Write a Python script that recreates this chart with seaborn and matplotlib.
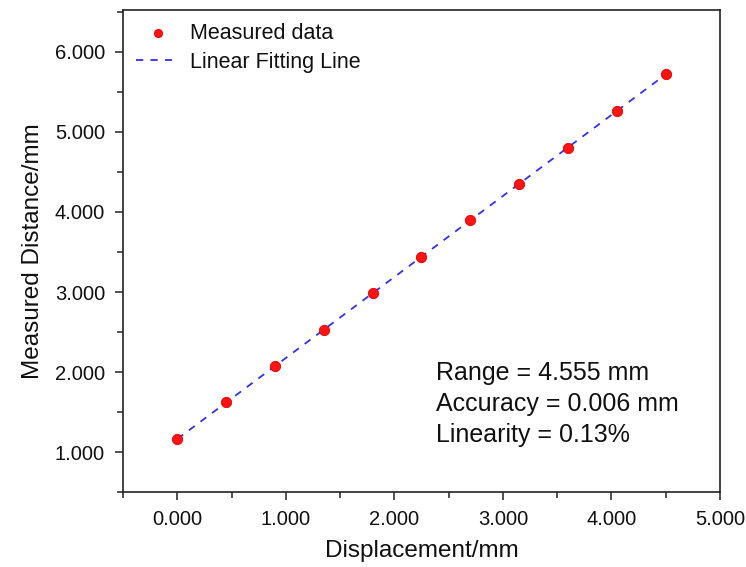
import numpy as np
import pandas as pd
import seaborn as sns
from matplotlib import pyplot as plt
from matplotlib.ticker import MultipleLocator, FormatStrFormatter

displacement = [0.0, 0.45, 0.9, 1.35, 1.8, 2.25, 2.7, 3.15, 3.6, 4.05, 4.5]
measured = [1.165, 1.620, 2.075, 2.530, 2.985, 3.440, 3.895, 4.350, 4.805, 5.260, 5.720]
notes = ["Range = 4.555 mm", "Accuracy = 0.006 mm", "Linearity = 0.13%"]

df = pd.DataFrame({"x": displacement, "y": measured})
k, b = np.polyfit(df["x"], df["y"], 1)
df["fit"] = k * df["x"] + b

sns.set_style("ticks")
plt.rcParams['font.family'] = ['Liberation Sans', 'DejaVu Sans']
plt.rcParams['text.color'] = '#111111'
plt.rcParams['axes.labelcolor'] = '#111111'
plt.rcParams['xtick.labelcolor'] = '#111111'
plt.rcParams['ytick.labelcolor'] = '#111111'

fig = plt.figure(figsize=(7.46, 5.67), dpi=100)
ax = fig.add_axes([0.165, 0.132, 0.8, 0.85])

sns.lineplot(data=df, x="x", y="fit", ax=ax, color="#3030ff", lw=1.3,
             linestyle="--", label="Linear Fitting Line", zorder=2)
sns.scatterplot(data=df, x="x", y="y", ax=ax, color="#ff1414", edgecolor="#e00000",
                s=55, linewidth=0.6, label="Measured data", zorder=3)
ax.lines[0].set_dashes((4, 4))

ax.set_xlim(-0.5, 5.0)
ax.set_ylim(0.5, 6.52)
ax.xaxis.set_major_locator(MultipleLocator(1))
ax.xaxis.set_minor_locator(MultipleLocator(0.5))
ax.yaxis.set_major_locator(MultipleLocator(1))
ax.yaxis.set_minor_locator(MultipleLocator(0.5))
ax.xaxis.set_major_formatter(FormatStrFormatter("%.3f"))
ax.yaxis.set_major_formatter(FormatStrFormatter("%.3f"))
ax.tick_params(which="major", length=6, width=1.1, labelsize=14.5, pad=7, color="#222222")
ax.tick_params(which="minor", length=4, width=1.1, color="#222222")
for s in ax.spines.values():
    s.set_linewidth(1.2)
    s.set_color("#222222")

ax.set_xlabel("Displacement/mm", fontsize=17.5, labelpad=8)
ax.set_ylabel("Measured Distance/mm", fontsize=17.5, labelpad=8)

h, l = ax.get_legend_handles_labels()
ax.legend(h[::-1], l[::-1], loc="upper left", frameon=False, fontsize=15.5,
          handlelength=2.0, handletextpad=0.5, borderaxespad=0.2, labelspacing=0.35,
          markerscale=0.8)

for i, t in enumerate(notes):
    ax.text(0.524, 0.247 - i * 0.064, t, transform=ax.transAxes, fontsize=18, va="center")

fig.savefig("out.png", dpi=100)
